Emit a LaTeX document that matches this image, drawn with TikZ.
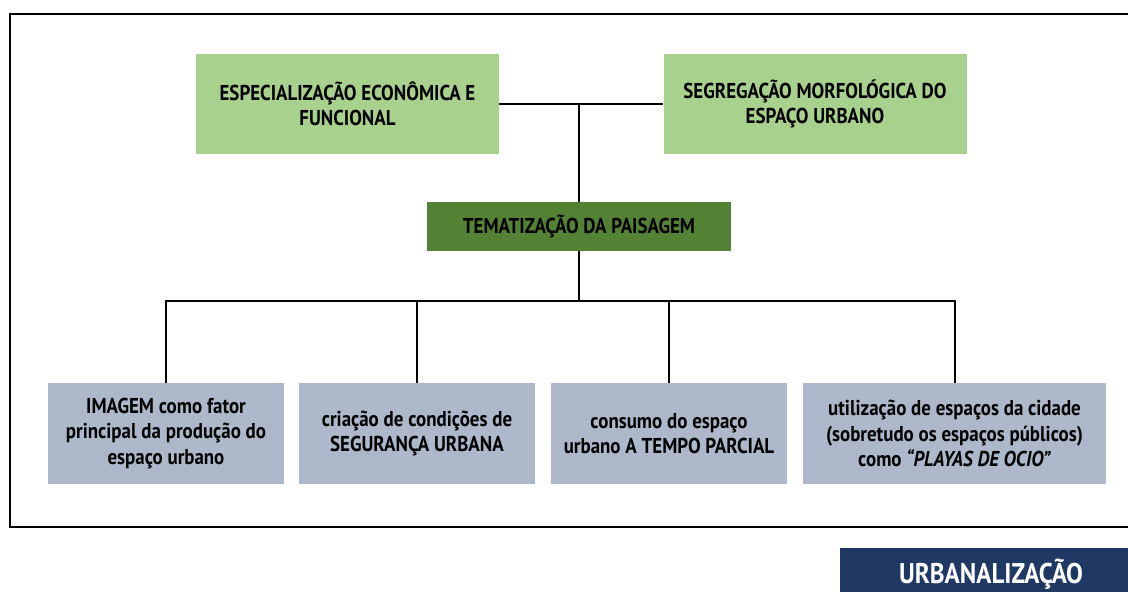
\documentclass[tikz,border=0pt]{standalone}
\usepackage{fontspec}
\setmainfont{PT Sans}[FakeStretch=0.88]
\usepackage{xcolor}
\usepackage{tikz}

\definecolor{verdeclaro}{HTML}{A9D18E}
\definecolor{verdeescuro}{HTML}{548235}
\definecolor{cinzaazul}{HTML}{ADB9CA}
\definecolor{azulmarinho}{HTML}{203864}

\begin{document}
\begin{tikzpicture}[x=1pt,y=-1pt]
        \tikzstyle{every node}+=[inner sep=0pt, align=center, font=\fontsize{21.5}{25.5}\selectfont\bfseries]
        \tikzstyle{fator}=[fill=verdeclaro, minimum width=303pt, minimum height=100pt]
        \tikzstyle{tema}=[fill=verdeescuro, minimum width=304pt, minimum height=49pt]
        \tikzstyle{efeito}=[fill=cinzaazul, minimum width=236pt, minimum height=101pt]
        \tikzstyle{ligacao}=[black, line width=2pt]
        \clip (0,0) rectangle (1128,592);
        \draw [black, line width=2.5pt] (1140,14) -- (10,14) -- (10,527) -- (1140,527);
        \node [fator] (espec) at (347.5,104) {ESPECIALIZAÇÃO ECONÔMICA E\\FUNCIONAL};
        \node [fator] (segreg) at (815,104) {SEGREGAÇÃO MORFOLÓGICA DO\\ESPAÇO URBANO};
        \node [tema] (paisagem) at (579,226.5) {TEMATIZAÇÃO DA PAISAGEM};
        \node [efeito] (imagem) at (166,433.5) {IMAGEM como fator\\principal da produção do\\espaço urbano};
        \node [efeito] (seguranca) at (417,433.5) {criação de condições de\\SEGURANÇA URBANA};
        \node [efeito] (consumo) at (669,433.5) {consumo do espaço\\urbano A TEMPO PARCIAL};
        \node [efeito, minimum width=303pt] (playas) at (954.5,433.5) {utilização de espaços da cidade\\(sobretudo os espaços públicos)\\como \textit{“PLAYAS DE OCIO”}};
        \node [fill=azulmarinho, text=white, minimum width=302pt, minimum height=52pt, font=\fontsize{28.5}{30}\selectfont\bfseries] (urb) at (991,574) {URBANALIZAÇÃO};
        \coordinate (barra) at (579,301);
        \draw [ligacao] (espec.east) -- (segreg.west);
        \draw [ligacao] (paisagem.north) -- (paisagem.north |- espec.east);
        \draw [ligacao] (paisagem.south) -- (barra);
        \draw [ligacao] (imagem.north) -- (imagem.north |- barra) -- (playas.north |- barra) -- (playas.north);
        \draw [ligacao] (seguranca.north) -- (seguranca.north |- barra);
        \draw [ligacao] (consumo.north) -- (consumo.north |- barra);
\end{tikzpicture}
\end{document}
